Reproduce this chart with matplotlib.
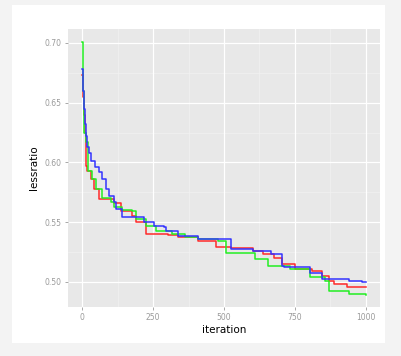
import matplotlib.pyplot as plt
from matplotlib.patches import Rectangle

# step data: (iteration, lessratio) at each change
red_x = [0, 3, 6, 9, 12, 14, 18, 31, 42, 59, 112, 136, 175, 189, 224, 304, 339, 409,
         472, 525, 601, 636, 678, 706, 752, 811, 846, 871, 888, 934, 1000]
red_y = [0.673, 0.655, 0.640, 0.625, 0.605, 0.597, 0.5925, 0.586, 0.5775, 0.569, 0.566,
         0.559, 0.555, 0.550, 0.540, 0.539, 0.5375, 0.534, 0.529, 0.528, 0.526, 0.5233,
         0.520, 0.515, 0.5108, 0.509, 0.505, 0.5008, 0.4983, 0.4958, 0.4958]

green_x = [0, 2, 4, 6, 8, 12, 20, 35, 49, 70, 101, 112, 140, 175, 189, 224, 259, 315,
           364, 409, 479, 507, 608, 654, 734, 804, 857, 870, 941, 1000]
green_y = [0.701, 0.680, 0.660, 0.640, 0.625, 0.617, 0.5925, 0.586, 0.5775, 0.570, 0.567,
           0.5625, 0.560, 0.559, 0.5525, 0.547, 0.543, 0.540, 0.5375, 0.5358, 0.534, 0.524,
           0.519, 0.5133, 0.5108, 0.504, 0.5008, 0.4925, 0.490, 0.489]

blue_x = [0, 3, 6, 9, 12, 17, 25, 31, 45, 59, 70, 84, 94, 112, 118, 140, 217, 252, 287,
          297, 339, 409, 525, 601, 664, 706, 710, 804, 846, 941, 985, 1000]
blue_y = [0.678, 0.660, 0.645, 0.632, 0.622, 0.613, 0.608, 0.601, 0.596, 0.592, 0.586,
          0.578, 0.572, 0.567, 0.561, 0.554, 0.550, 0.547, 0.546, 0.5425, 0.5383, 0.5358,
          0.5275, 0.526, 0.5233, 0.5133, 0.5125, 0.5075, 0.5025, 0.5008, 0.500, 0.500]

x_ticks = [0, 250, 500, 750, 1000]
y_ticks = [0.50, 0.55, 0.60, 0.65, 0.70]

fig = plt.figure(figsize=(4.01, 3.56), dpi=100, facecolor='#f3f3f3')
fig.patches.append(Rectangle((12 / 401, 1 - 343 / 356), 373 / 401, 338 / 356,
                             transform=fig.transFigure, facecolor='white',
                             edgecolor='none', zorder=-10))

ax = fig.add_axes([68 / 401, 1 - 307 / 356, 312 / 401, 278 / 356])
ax.set_facecolor('#e8e8e8')
for s in ax.spines.values():
    s.set_visible(False)

# minor + major grid, ggplot style
for v in [125, 375, 625, 875]:
    ax.axvline(v, color='#f2f2f2', lw=0.5, zorder=0)
for v in [0.525, 0.575, 0.625, 0.675]:
    ax.axhline(v, color='#f2f2f2', lw=0.5, zorder=0)
for v in x_ticks:
    ax.axvline(v, color='white', lw=0.9, zorder=0)
for v in y_ticks:
    ax.axhline(v, color='white', lw=0.9, zorder=0)

ax.plot(red_x, red_y, drawstyle='steps-post', color='#ff2a2a', lw=1.1)
ax.plot(green_x, green_y, drawstyle='steps-post', color='#22ee22', lw=1.1)
ax.plot(blue_x, blue_y, drawstyle='steps-post', color='#3333ff', lw=1.1)

ax.set_xlim(-50, 1050)
ax.set_ylim(0.479, 0.7117)
ax.set_xticks(x_ticks)
ax.set_xticklabels([str(v) for v in x_ticks])
ax.set_yticks(y_ticks)
ax.set_yticklabels(['%.2f' % v for v in y_ticks])
ax.tick_params(colors='#9a9a9a', labelsize=5.5, length=2.5, width=0.6, pad=2)

ax.set_xlabel('iteration', fontsize=7.5, labelpad=2)
ax.set_ylabel('lessratio', fontsize=7.5, labelpad=4)

fig.savefig('out.png', dpi=100, facecolor=fig.get_facecolor())
